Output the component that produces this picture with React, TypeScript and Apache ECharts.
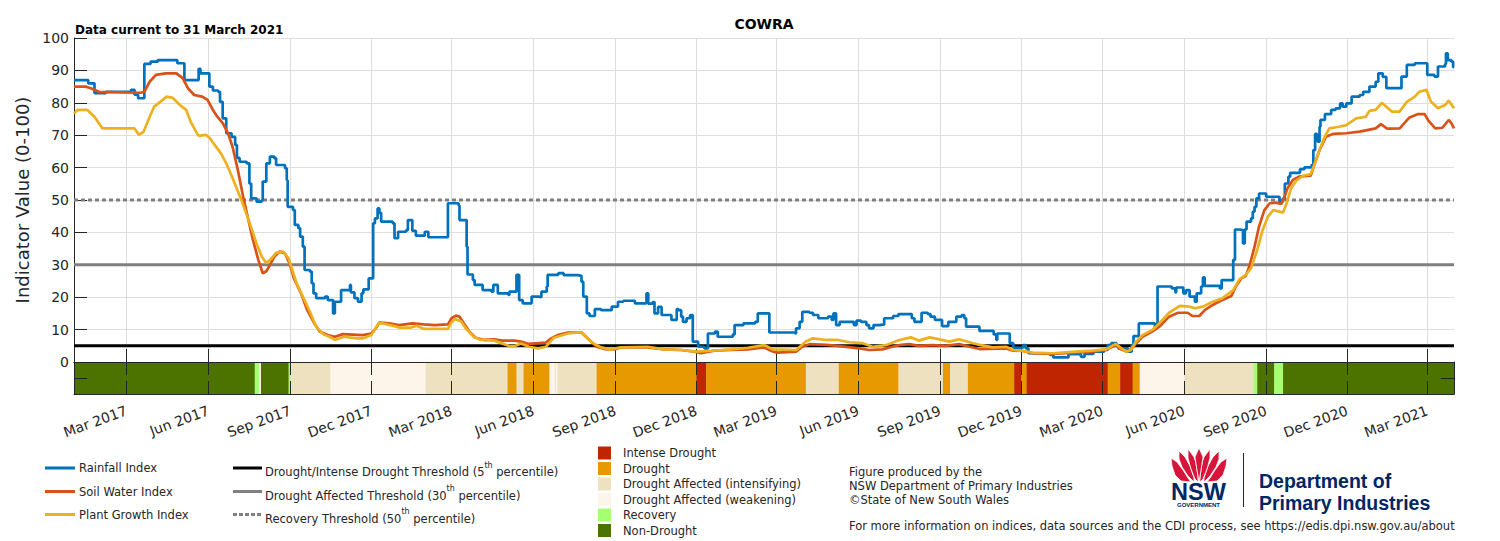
import React, { useEffect, useRef } from 'react';
import * as echarts from 'echarts';

// ---------- DATA ----------
const startDate = '2017-01-01';
const endDate = '2021-03-31';
const tickMonths = ['03', '06', '09', '12'];
const monthNames = ['Jan', 'Feb', 'Mar', 'Apr', 'May', 'Jun', 'Jul', 'Aug', 'Sep', 'Oct', 'Nov', 'Dec'];

const rainfallIndex: [string, number][] = [
  ['2017-01-01', 87], ['2017-01-17', 86], ['2017-01-24', 83], ['2017-02-06', 83.4], ['2017-03-06', 84],
  ['2017-03-10', 82.5], ['2017-03-14', 81.4], ['2017-03-21', 92], ['2017-03-28', 92.7], ['2017-04-05', 93.2],
  ['2017-04-27', 92.2], ['2017-05-05', 87], ['2017-05-21', 90.5], ['2017-05-23', 89.1], ['2017-06-02', 85],
  ['2017-06-06', 83.8], ['2017-06-12', 83.4], ['2017-06-14', 80.3], ['2017-06-17', 75.2], ['2017-06-21', 70.6],
  ['2017-06-27', 69.5], ['2017-07-01', 67], ['2017-07-03', 63], ['2017-07-06', 61.8], ['2017-07-14', 61.3],
  ['2017-07-17', 55.1], ['2017-07-19', 50.5], ['2017-07-25', 49.5], ['2017-07-31', 50], ['2017-08-01', 55.7],
  ['2017-08-05', 61.3], ['2017-08-09', 63.4], ['2017-08-14', 62.9], ['2017-08-16', 60.8], ['2017-08-26', 59.8],
  ['2017-08-28', 56.2], ['2017-08-29', 47.9], ['2017-09-04', 46.9], ['2017-09-06', 42.3], ['2017-09-10', 41.3],
  ['2017-09-12', 38.7], ['2017-09-15', 35.6], ['2017-09-17', 28.4], ['2017-09-23', 27.9], ['2017-09-25', 24.3],
  ['2017-09-27', 21.2], ['2017-09-30', 19.7], ['2017-10-10', 20.2], ['2017-10-13', 19.1], ['2017-10-19', 15],
  ['2017-10-21', 18.6], ['2017-10-28', 22.2], ['2017-11-07', 23.8], ['2017-11-08', 21.5], ['2017-11-12', 19.7],
  ['2017-11-16', 18.6], ['2017-11-20', 21.2], ['2017-11-22', 22.4], ['2017-11-28', 25.8], ['2017-12-03', 42.8],
  ['2017-12-05', 44.3], ['2017-12-08', 47.4], ['2017-12-10', 46], ['2017-12-12', 43.3], ['2017-12-25', 42.8],
  ['2017-12-27', 38.2], ['2017-12-31', 40.2], ['2018-01-09', 40.7], ['2018-01-11', 43.8], ['2018-01-16', 40.5],
  ['2018-01-20', 39], ['2018-01-30', 40.2], ['2018-02-03', 38.5], ['2018-02-25', 49], ['2018-03-09', 48.3],
  ['2018-03-10', 43.8], ['2018-03-18', 35.6], ['2018-03-19', 27], ['2018-03-25', 25.3], ['2018-03-27', 23.8],
  ['2018-04-05', 22.2], ['2018-04-15', 21.7], ['2018-04-17', 23.8], ['2018-04-22', 21.2], ['2018-05-04', 20.7],
  ['2018-05-05', 21.7], ['2018-05-13', 26.9], ['2018-05-16', 19.1], ['2018-05-20', 18.1], ['2018-05-30', 20.2],
  ['2018-06-06', 20], ['2018-06-10', 21.7], ['2018-06-16', 23.3], ['2018-06-17', 26.9], ['2018-06-29', 27.4],
  ['2018-07-05', 26.8], ['2018-07-21', 26.6], ['2018-07-25', 24.8], ['2018-07-27', 20.2], ['2018-07-31', 15],
  ['2018-08-03', 14.2], ['2018-08-09', 16.3], ['2018-08-16', 16], ['2018-08-28', 17.1], ['2018-09-04', 18.6],
  ['2018-09-10', 18.9], ['2018-09-23', 18.1], ['2018-10-06', 21.2], ['2018-10-08', 18], ['2018-10-13', 18.5],
  ['2018-10-15', 15], ['2018-10-19', 17], ['2018-10-23', 14.5], ['2018-11-03', 13], ['2018-11-09', 16.3],
  ['2018-11-11', 16], ['2018-11-14', 14], ['2018-11-16', 12.4], ['2018-11-20', 13.5], ['2018-11-24', 14.5],
  ['2018-11-27', 6.3], ['2018-12-03', 4.7], ['2018-12-10', 4.2], ['2018-12-14', 8.8], ['2018-12-22', 9.4],
  ['2018-12-25', 7.8], ['2019-01-11', 8.5], ['2019-01-13', 11.4], ['2019-01-23', 11.9], ['2019-02-05', 12.4],
  ['2019-02-08', 15], ['2019-02-21', 9.1], ['2019-03-22', 8.8], ['2019-03-23', 10.4], ['2019-03-27', 12.4],
  ['2019-03-30', 15.5], ['2019-04-07', 15.2], ['2019-04-11', 14.5], ['2019-04-17', 13.5], ['2019-04-28', 14],
  ['2019-05-02', 13], ['2019-05-04', 15], ['2019-05-07', 11.4], ['2019-05-11', 12.4], ['2019-05-27', 11.4],
  ['2019-05-30', 12.8], ['2019-06-04', 12.4], ['2019-06-10', 11.4], ['2019-06-13', 10.4], ['2019-06-18', 11.4],
  ['2019-06-25', 11.6], ['2019-06-30', 13.5], ['2019-07-10', 14.2], ['2019-07-16', 14.8], ['2019-07-31', 13.5],
  ['2019-08-03', 12.4], ['2019-08-11', 15.2], ['2019-08-18', 14.8], ['2019-08-21', 14], ['2019-08-26', 13],
  ['2019-09-03', 11.1], ['2019-09-10', 12.4], ['2019-09-19', 14], ['2019-09-25', 14.5], ['2019-09-28', 13.5],
  ['2019-09-30', 10.9], ['2019-10-15', 9.6], ['2019-10-31', 8.5], ['2019-11-03', 6.8], ['2019-11-04', 8.8],
  ['2019-11-18', 5.8], ['2019-11-22', 4.4], ['2019-12-03', 5.2], ['2019-12-06', 4.2], ['2019-12-09', 2.7],
  ['2020-01-02', 2.2], ['2020-01-06', 1.4], ['2020-01-23', 2.4], ['2020-02-06', 1.6], ['2020-02-10', 2.5],
  ['2020-02-20', 3.2], ['2020-03-03', 3.7], ['2020-03-07', 5.2], ['2020-03-11', 5.8], ['2020-03-17', 5.2],
  ['2020-03-19', 4.2], ['2020-03-30', 3.2], ['2020-04-03', 5.2], ['2020-04-05', 8], ['2020-04-11', 11.9],
  ['2020-04-29', 10.9], ['2020-05-02', 23.3], ['2020-05-18', 22.7], ['2020-05-22', 21.5], ['2020-05-23', 23],
  ['2020-05-31', 21.2], ['2020-06-03', 22.2], ['2020-06-07', 20.2], ['2020-06-13', 18.6], ['2020-06-15', 21.2],
  ['2020-06-20', 23.3], ['2020-06-22', 26.1], ['2020-06-24', 23.5], ['2020-07-11', 22.7], ['2020-07-13', 25.3],
  ['2020-07-26', 31.5], ['2020-07-28', 40.9], ['2020-08-02', 40.7], ['2020-08-06', 36.6], ['2020-08-08', 40.9],
  ['2020-08-10', 43.3], ['2020-08-15', 44.3], ['2020-08-17', 46.4], ['2020-08-19', 47.9], ['2020-08-21', 50.5],
  ['2020-08-24', 52], ['2020-09-01', 51], ['2020-09-16', 49.5], ['2020-09-20', 50.5], ['2020-09-22', 55.1],
  ['2020-09-26', 57.2], ['2020-09-28', 58.4], ['2020-10-09', 59.5], ['2020-10-14', 60.1], ['2020-10-22', 60.8],
  ['2020-10-24', 65.4], ['2020-10-26', 70.4], ['2020-10-28', 69.5], ['2020-10-29', 68], ['2020-10-31', 72.6],
  ['2020-11-01', 74.7], ['2020-11-06', 76.5], ['2020-11-13', 77.8], ['2020-11-18', 78.3], ['2020-11-23', 79.8],
  ['2020-11-26', 78.8], ['2020-11-30', 79.8], ['2020-12-06', 81.9], ['2020-12-15', 82.4], ['2020-12-19', 83.4],
  ['2020-12-26', 85], ['2021-01-02', 86.5], ['2021-01-05', 89.1], ['2021-01-10', 88], ['2021-01-14', 84.5],
  ['2021-01-31', 88.1], ['2021-02-06', 91.7], ['2021-02-15', 92.2], ['2021-03-01', 88.6], ['2021-03-09', 88.1],
  ['2021-03-13', 91.2], ['2021-03-21', 92], ['2021-03-22', 95.3], ['2021-03-24', 93.2], ['2021-03-28', 92.7],
  ['2021-03-30', 91], ['2021-03-31', 91],
];

const soilWaterIndex: [string, number][] = [
  ['2017-01-01', 85], ['2017-01-14', 85], ['2017-01-20', 84.5], ['2017-01-29', 83.4], ['2017-03-17', 83.1],
  ['2017-03-21', 83.4], ['2017-03-27', 86.5], ['2017-04-03', 88.6], ['2017-04-14', 89.1], ['2017-04-26', 89.1],
  ['2017-05-03', 87.6], ['2017-05-09', 84.5], ['2017-05-16', 82.4], ['2017-05-25', 81.9], ['2017-05-31', 80.9],
  ['2017-06-06', 77.8], ['2017-06-11', 75.7], ['2017-06-17', 73.7], ['2017-06-23', 70.6], ['2017-06-28', 66.5],
  ['2017-07-04', 59.3], ['2017-07-10', 51], ['2017-07-15', 44.9], ['2017-07-21', 37.7], ['2017-07-27', 31.5],
  ['2017-08-01', 27.4], ['2017-08-05', 28], ['2017-08-09', 29.9], ['2017-08-14', 32.5], ['2017-08-20', 34.1],
  ['2017-08-26', 33.5], ['2017-08-31', 30.5], ['2017-09-05', 25.8], ['2017-09-13', 21.2], ['2017-09-20', 16],
  ['2017-09-28', 11.9], ['2017-10-04', 9.4], ['2017-10-13', 8.3], ['2017-10-21', 7.8], ['2017-10-30', 8.6],
  ['2017-11-21', 8.3], ['2017-12-01', 8.8], ['2017-12-06', 10.4], ['2017-12-10', 12.2], ['2017-12-21', 11.9],
  ['2018-01-01', 11.4], ['2018-01-16', 11.9], ['2018-01-29', 11.6], ['2018-02-10', 11.4], ['2018-02-25', 11.6],
  ['2018-03-01', 13.5], ['2018-03-06', 14.3], ['2018-03-10', 14], ['2018-03-15', 11.9], ['2018-03-21', 9.4],
  ['2018-03-28', 7.5], ['2018-04-07', 6.8], ['2018-04-18', 7], ['2018-04-27', 6.6], ['2018-05-11', 6.6],
  ['2018-05-18', 6.3], ['2018-05-26', 5.6], ['2018-06-15', 6], ['2018-06-21', 7.3], ['2018-06-28', 8.3],
  ['2018-07-10', 9.1], ['2018-07-25', 9.1], ['2018-08-02', 7], ['2018-08-11', 4.7], ['2018-08-20', 4],
  ['2018-08-31', 3.9], ['2018-09-07', 4.5], ['2018-10-07', 4.5], ['2018-10-26', 3.9], ['2018-11-14', 3.7],
  ['2018-11-29', 3.2], ['2018-12-06', 2.7], ['2018-12-21', 3.5], ['2019-01-09', 3.7], ['2019-01-28', 3.9],
  ['2019-02-15', 4.5], ['2019-02-25', 3.2], ['2019-03-02', 2.9], ['2019-03-23', 3.2], ['2019-03-30', 4.7],
  ['2019-04-07', 5.5], ['2019-04-26', 5.3], ['2019-05-11', 4.9], ['2019-06-02', 4.2], ['2019-06-13', 3.7],
  ['2019-06-28', 3.9], ['2019-07-09', 4.7], ['2019-07-17', 5.2], ['2019-07-28', 5.5], ['2019-08-08', 5],
  ['2019-08-23', 5.2], ['2019-09-07', 5], ['2019-09-22', 5.5], ['2019-10-04', 4.7], ['2019-10-15', 4],
  ['2019-11-14', 4.2], ['2019-11-22', 3.5], ['2019-12-03', 3.4], ['2019-12-14', 2.7], ['2020-01-05', 2.5],
  ['2020-01-31', 2.9], ['2020-02-19', 3.2], ['2020-03-05', 3.8], ['2020-03-16', 5.2], ['2020-03-22', 3.9],
  ['2020-03-28', 3.2], ['2020-04-02', 3.7], ['2020-04-08', 5.8], ['2020-04-15', 7.8], ['2020-04-26', 9.4],
  ['2020-05-04', 10.9], ['2020-05-15', 14], ['2020-05-25', 15.2], ['2020-06-05', 15.2], ['2020-06-10', 14.2],
  ['2020-06-18', 14.2], ['2020-06-24', 16], ['2020-07-03', 17.6], ['2020-07-12', 18.9], ['2020-07-24', 20.4],
  ['2020-07-29', 23.3], ['2020-08-04', 25.8], ['2020-08-09', 26.5], ['2020-08-13', 29.4], ['2020-08-19', 35.6],
  ['2020-08-24', 41.8], ['2020-08-30', 46.9], ['2020-09-05', 49], ['2020-09-12', 49.2], ['2020-09-18', 48.8],
  ['2020-09-21', 50.5], ['2020-09-25', 53.6], ['2020-10-01', 56.2], ['2020-10-08', 57.2], ['2020-10-21', 57.5],
  ['2020-10-25', 60.8], ['2020-10-31', 65.4], ['2020-11-07', 69.5], ['2020-11-15', 70.4], ['2020-11-30', 70.6],
  ['2020-12-15', 71.1], ['2021-01-02', 72.1], ['2021-01-08', 73.4], ['2021-01-15', 72], ['2021-01-29', 72.1],
  ['2021-02-09', 75.5], ['2021-02-18', 76.5], ['2021-02-26', 76.5], ['2021-03-02', 74.6], ['2021-03-10', 72.1],
  ['2021-03-18', 72.3], ['2021-03-25', 74.7], ['2021-03-28', 73.7], ['2021-03-31', 72.1],
];

const plantGrowthIndex: [string, number][] = [
  ['2017-01-01', 76.7], ['2017-01-05', 77.8], ['2017-01-16', 77.8], ['2017-01-24', 75.7], ['2017-02-02', 72.1],
  ['2017-03-10', 72.1], ['2017-03-15', 70.1], ['2017-03-20', 71], ['2017-03-27', 75.7], ['2017-04-01', 78.8],
  ['2017-04-08', 80.3], ['2017-04-15', 81.9], ['2017-04-22', 81.5], ['2017-04-30', 79.3], ['2017-05-07', 77.8],
  ['2017-05-12', 74.2], ['2017-05-18', 71.1], ['2017-05-21', 69.8], ['2017-05-29', 70.1], ['2017-06-02', 69.3],
  ['2017-06-08', 67], ['2017-06-15', 64.4], ['2017-06-21', 61.3], ['2017-06-26', 58.2], ['2017-07-02', 54.1],
  ['2017-07-08', 50], ['2017-07-14', 45.4], ['2017-07-20', 40.7], ['2017-07-25', 36.6], ['2017-07-31', 32.5],
  ['2017-08-05', 30.5], ['2017-08-11', 32], ['2017-08-16', 33.7], ['2017-08-24', 34.1], ['2017-08-30', 32],
  ['2017-09-02', 29.4], ['2017-09-08', 24.3], ['2017-09-15', 20.2], ['2017-09-23', 15.5], ['2017-09-30', 10.9],
  ['2017-10-08', 8.6], ['2017-10-15', 7.8], ['2017-10-21', 6.8], ['2017-10-31', 7.8], ['2017-11-15', 7.3],
  ['2017-11-22', 7.3], ['2017-12-01', 8.3], ['2017-12-09', 11.9], ['2017-12-14', 11.9], ['2017-12-22', 11.4],
  ['2018-01-02', 10.6], ['2018-01-14', 10.6], ['2018-01-21', 11.2], ['2018-01-29', 10.2], ['2018-02-25', 10.2],
  ['2018-03-01', 12.2], ['2018-03-05', 13.3], ['2018-03-12', 12.5], ['2018-03-17', 10.4], ['2018-03-26', 7.8],
  ['2018-04-03', 6.8], ['2018-04-18', 6.6], ['2018-05-04', 5], ['2018-05-11', 4.9], ['2018-05-18', 5.7],
  ['2018-05-27', 4.7], ['2018-06-06', 4.2], ['2018-06-15', 4.7], ['2018-06-24', 7.5], ['2018-07-10', 8.8],
  ['2018-07-25', 9.2], ['2018-08-06', 6], ['2018-08-16', 4.5], ['2018-08-27', 3.9], ['2018-09-07', 4.5],
  ['2018-10-07', 4.7], ['2018-10-26', 3.9], ['2018-11-14', 3.7], ['2018-12-01', 3.2], ['2018-12-14', 3.4],
  ['2019-01-09', 3.9], ['2019-01-28', 4.4], ['2019-02-15', 5.2], ['2019-02-17', 5], ['2019-02-25', 3.9],
  ['2019-03-23', 3.7], ['2019-04-03', 6.3], ['2019-04-11', 7.3], ['2019-04-26', 6.8], ['2019-05-09', 6.8],
  ['2019-05-22', 6.1], ['2019-06-06', 5.8], ['2019-06-17', 4.7], ['2019-07-02', 5.2], ['2019-07-17', 6.8],
  ['2019-07-30', 7.6], ['2019-08-08', 6.6], ['2019-08-20', 7.6], ['2019-08-31', 7], ['2019-09-11', 6.3],
  ['2019-09-22', 7], ['2019-10-08', 5.8], ['2019-10-15', 5.3], ['2019-10-30', 4.5], ['2019-11-14', 4.7],
  ['2019-11-22', 3.7], ['2019-12-03', 3.4], ['2019-12-14', 2.9], ['2020-01-05', 2.7], ['2020-01-31', 3.2],
  ['2020-02-19', 3.5], ['2020-03-05', 3.9], ['2020-03-16', 5.6], ['2020-03-22', 4.3], ['2020-03-28', 3.2],
  ['2020-04-02', 3.7], ['2020-04-08', 6.3], ['2020-04-15', 8.3], ['2020-04-26', 9.9], ['2020-05-04', 11.9],
  ['2020-05-15', 15.2], ['2020-05-27', 17.3], ['2020-06-07', 17.1], ['2020-06-13', 16.6], ['2020-06-22', 17.1],
  ['2020-07-03', 18.6], ['2020-07-14', 19.7], ['2020-07-26', 22.2], ['2020-08-02', 25.5], ['2020-08-09', 26.9],
  ['2020-08-15', 28.9], ['2020-08-22', 34.6], ['2020-08-28', 40.7], ['2020-09-03', 44.9], ['2020-09-09', 46.9],
  ['2020-09-16', 46.4], ['2020-09-20', 46.1], ['2020-09-24', 49], ['2020-09-29', 53.6], ['2020-10-05', 56],
  ['2020-10-12', 57.4], ['2020-10-21', 58], ['2020-10-25', 60.8], ['2020-10-31', 65.4], ['2020-11-05', 69],
  ['2020-11-11', 72.1], ['2020-11-22', 72.6], ['2020-11-30', 73.1], ['2020-12-11', 75.2], ['2020-12-22', 75.7],
  ['2020-12-26', 77.5], ['2021-01-02', 77.8], ['2021-01-09', 80], ['2021-01-20', 77.3], ['2021-01-29', 77.3],
  ['2021-02-06', 80.3], ['2021-02-15', 81.9], ['2021-02-20', 83.4], ['2021-02-28', 84], ['2021-03-05', 80.4],
  ['2021-03-13', 78.3], ['2021-03-21', 79.3], ['2021-03-25', 80.7], ['2021-03-31', 78.3],
];

const thresholdNames = [
  'Drought/Intense Drought Threshold',
  'Drought Affected Threshold',
  'Recovery Threshold',
];
const thresholdValues = [5, 30, 50];
const thresholdPercentiles = ['5', '30', '50'];

const droughtCategories = [
  'Intense Drought',
  'Drought',
  'Drought Affected (intensifying)',
  'Drought Affected (weakening)',
  'Recovery',
  'Non-Drought',
];

// [start, end, category index]
const droughtPeriods: [string, string, number][] = [
  ['2017-01-01', '2017-07-23', 5], ['2017-07-23', '2017-07-28', 4], ['2017-07-28', '2017-07-30', 3],
  ['2017-07-30', '2017-08-30', 5], ['2017-08-30', '2017-09-01', 4], ['2017-09-01', '2017-10-16', 2],
  ['2017-10-16', '2018-01-31', 3], ['2018-01-31', '2018-05-03', 2], ['2018-05-03', '2018-05-13', 1],
  ['2018-05-13', '2018-05-21', 2], ['2018-05-21', '2018-06-19', 1], ['2018-06-19', '2018-06-25', 3],
  ['2018-06-25', '2018-06-26', 2], ['2018-06-26', '2018-06-28', 3], ['2018-06-28', '2018-08-11', 2],
  ['2018-08-11', '2018-12-01', 1], ['2018-12-01', '2018-12-12', 0], ['2018-12-12', '2019-04-03', 1],
  ['2019-04-03', '2019-05-10', 2], ['2019-05-10', '2019-07-16', 1], ['2019-07-16', '2019-09-04', 2],
  ['2019-09-04', '2019-09-12', 1], ['2019-09-12', '2019-10-02', 2], ['2019-10-02', '2019-11-23', 1],
  ['2019-11-23', '2019-12-01', 0], ['2019-12-01', '2019-12-07', 1], ['2019-12-07', '2020-03-07', 0],
  ['2020-03-07', '2020-03-21', 1], ['2020-03-21', '2020-04-04', 0], ['2020-04-04', '2020-04-12', 1],
  ['2020-04-12', '2020-06-01', 3], ['2020-06-01', '2020-08-18', 2], ['2020-08-18', '2020-08-22', 4],
  ['2020-08-22', '2020-09-10', 5], ['2020-09-10', '2020-09-20', 4], ['2020-09-20', '2021-03-31', 5],
];

// ---------- STYLE ----------
const FONT = 'DejaVu Sans';
const INK = '#262626';
const GRIDC = '#dedede';
const seriesColors = ['#0072BD', '#D95319', '#EDB120'];
const thresholdColors = ['#000000', '#808080', '#808080'];
const droughtColors = ['#BF2600', '#E69900', '#EDE1BF', '#FDF5E9', '#A6FF73', '#4C7300'];
const NAVY = '#002664';
const WARATAH = '#D7153A';

function buildDays(a: string, b: string): string[] {
  const out: string[] = [];
  const d = new Date(a + 'T00:00:00Z');
  const end = new Date(b + 'T00:00:00Z').getTime();
  while (d.getTime() <= end) {
    out.push(d.toISOString().slice(0, 10));
    d.setUTCDate(d.getUTCDate() + 1);
  }
  return out;
}

const waratahPetals: number[][][] = [
  [[0, 10], [6, 14], [12, 22], [17, 30], [20, 34], [10, 33], [4, 27], [1, 18]],
  [[8, 3], [14, 9], [19, 18], [23, 30], [23, 34], [17, 28], [11, 19], [8, 11]],
  [[17, 1], [23, 9], [27, 21], [27, 34], [24, 31], [20, 21], [17, 10]],
  [[28, 0], [32, 9], [30, 22], [28, 34], [26, 22], [24, 9]],
];

export default function App() {
  const ref = useRef<HTMLDivElement>(null);

  useEffect(() => {
    if (!ref.current) return;
    const chart = echarts.init(ref.current, undefined, { renderer: 'svg' });

    const days = buildDays(startDate, endDate);
    const idx = new Map<string, number>();
    days.forEach((d, i) => idx.set(d, i));
    const toPts = (arr: [string, number][]) => arr.map(([d, v]) => [idx.get(d), v]);
    const isTick = (_i: number, v: string) =>
      v.slice(8, 10) === '01' && tickMonths.includes(v.slice(5, 7));
    const fmt = (v: string) => `${monthNames[parseInt(v.slice(5, 7), 10) - 1]} ${v.slice(0, 4)}`;
    const last = days.length - 1;

    const darkLine = { show: true, onZero: false, lineStyle: { color: INK, width: 1 } };
    const inTick = (interval?: any) => ({
      show: true, inside: true, length: 13, interval, lineStyle: { color: INK, width: 1 },
    });

    const thresholdSeries = thresholdValues.map((v, i) => ({
      name: thresholdNames[i],
      type: 'line',
      xAxisIndex: 0, yAxisIndex: 0,
      data: [[0, v], [last, v]],
      symbol: 'none',
      silent: true,
      lineStyle: {
        color: thresholdColors[i],
        width: 3,
        type: i === 2 ? [4, 3] : 'solid',
      },
    }));

    const lineSeries = [
      { name: 'Rainfall Index', data: rainfallIndex, step: 'end' },
      { name: 'Soil Water Index', data: soilWaterIndex, step: false },
      { name: 'Plant Growth Index', data: plantGrowthIndex, step: false },
    ].map((s, i) => ({
      name: s.name,
      type: 'line',
      xAxisIndex: 0, yAxisIndex: 0,
      data: toPts(s.data),
      step: s.step,
      symbol: 'none',
      showSymbol: false,
      silent: true,
      lineStyle: { color: seriesColors[i], width: 2.7 },
    }));

    const bandSeries = {
      name: 'CDI',
      type: 'custom',
      xAxisIndex: 1, yAxisIndex: 1,
      silent: true,
      encode: { x: [0, 1], y: 2 },
      data: droughtPeriods.map(([a, b, c]) => [idx.get(a), idx.get(b), 1, c]),
      renderItem: (_p: any, api: any) => {
        const p0 = api.coord([api.value(0), 0]);
        const p1 = api.coord([api.value(1), 2]);
        return {
          type: 'rect',
          shape: { x: p0[0], y: p1[1], width: p1[0] - p0[0] + 0.4, height: p0[1] - p1[1] },
          style: { fill: droughtColors[api.value(3)] },
        };
      },
    };

    const txt = (x: number, y: number, text: string, extra: any = {}) => ({
      type: 'text', x, y, silent: true,
      style: {
        text, fill: INK, fontFamily: FONT, fontSize: 11.5,
        textAlign: 'left', textVerticalAlign: 'middle', ...extra,
      },
    });

    const graphics: any[] = [];
    // titles
    graphics.push(txt(764, 24, 'COWRA', { fontSize: 14, fontWeight: 'bold', textAlign: 'center', fill: '#000' }));
    graphics.push(txt(75, 30, 'Data current to 31 March 2021', { fontSize: 12, fontWeight: 'bold', fill: '#000' }));

    // series legend
    const legendNames = ['Rainfall Index', 'Soil Water Index', 'Plant Growth Index'];
    const rowsY = [468, 491.5, 514.5];
    legendNames.forEach((n, i) => {
      graphics.push({
        type: 'line', silent: true,
        shape: { x1: 45, y1: rowsY[i], x2: 75, y2: rowsY[i] },
        style: { stroke: seriesColors[i], lineWidth: 3 },
      });
      graphics.push(txt(79, rowsY[i], n));
    });
    thresholdNames.forEach((n, i) => {
      graphics.push({
        type: 'line', silent: true,
        shape: { x1: 233, y1: rowsY[i], x2: 262, y2: rowsY[i] },
        style: { stroke: thresholdColors[i], lineWidth: 3, lineDash: i === 2 ? [4, 2] : null },
      });
      graphics.push({
        type: 'text', x: 265, y: rowsY[i] + 1.5, silent: true,
        style: {
          text: `{n|${n} (${thresholdPercentiles[i]}}{s|th}{n| percentile)}`,
          textAlign: 'left', textVerticalAlign: 'middle',
          rich: {
            n: { fontFamily: FONT, fontSize: 11.5, fill: INK, lineHeight: 17, verticalAlign: 'bottom' },
            s: { fontFamily: FONT, fontSize: 8, fill: INK, lineHeight: 8, verticalAlign: 'top' },
          },
        },
      });
    });

    // category legend
    const catY = [453, 468.5, 484, 499.5, 515, 530.5];
    droughtCategories.forEach((c, i) => {
      graphics.push({
        type: 'rect', silent: true,
        shape: { x: 598, y: catY[i] - 6.5, width: 13, height: 13 },
        style: { fill: droughtColors[i] },
      });
      graphics.push(txt(623, catY[i], c));
    });

    // credits
    graphics.push(txt(849, 472, 'Figure produced by the'));
    graphics.push(txt(849, 486, 'NSW Department of Primary Industries'));
    graphics.push(txt(849, 500, '©State of New South Wales'));
    graphics.push(txt(849, 526, 'For more information on indices, data sources and the CDI process, see https://edis.dpi.nsw.gov.au/about'));

    // logo
    const ox = 1171, oy = 448;
    waratahPetals.forEach((pts) => {
      const left = pts.map(([x, y]) => [ox + x, oy + y]);
      const right = pts.map(([x, y]) => [ox + 56 - x, oy + y]);
      [left, right].forEach((p) =>
        graphics.push({
          type: 'polygon', silent: true,
          shape: { points: p },
          style: { fill: WARATAH, stroke: '#ffffff', lineWidth: 0.8 },
        }),
      );
    });
    graphics.push(txt(1198.5, 491.5, 'NSW', {
      fontFamily: 'Liberation Sans', fontSize: 23.5, fontWeight: 'bold', fill: NAVY, textAlign: 'center',
    }));
    graphics.push(txt(1198.5, 505, 'GOVERNMENT', {
      fontFamily: 'Liberation Sans', fontSize: 6, fontWeight: 'bold', fill: NAVY, textAlign: 'center',
    }));
    graphics.push({
      type: 'line', silent: true,
      shape: { x1: 1243.5, y1: 453, x2: 1243.5, y2: 507 },
      style: { stroke: NAVY, lineWidth: 1 },
    });
    graphics.push(txt(1259, 480.5, 'Department of', {
      fontFamily: 'Liberation Sans', fontSize: 19.5, fontWeight: 'bold', fill: NAVY,
    }));
    graphics.push(txt(1259, 502.5, 'Primary Industries', {
      fontFamily: 'Liberation Sans', fontSize: 19.5, fontWeight: 'bold', fill: NAVY,
    }));

    const option: any = {
      animation: false,
      textStyle: { fontFamily: FONT },
      grid: [
        { left: 74, right: 46, top: 38, height: 324 },
        { left: 74, right: 46, top: 362, height: 32 },
      ],
      xAxis: [
        {
          gridIndex: 0, type: 'category', data: days, boundaryGap: false,
          axisLine: darkLine, axisTick: inTick(isTick), axisLabel: { show: false },
          splitLine: { show: true, interval: isTick, lineStyle: { color: GRIDC, width: 1 } },
        },
        {
          gridIndex: 1, type: 'category', data: days, boundaryGap: false, position: 'bottom', z: 10,
          axisLine: darkLine, axisTick: inTick(isTick),
          axisLabel: {
            interval: isTick, formatter: fmt, rotate: 20, margin: 16,
            fontSize: 14, color: INK, fontFamily: FONT,
          },
          splitLine: { show: false },
        },
        {
          gridIndex: 1, type: 'category', data: days, boundaryGap: false, position: 'top', z: 10,
          axisLine: darkLine, axisTick: inTick(isTick), axisLabel: { show: false },
          splitLine: { show: false },
        },
      ],
      yAxis: [
        {
          gridIndex: 0, type: 'value', min: 0, max: 100, interval: 10,
          name: 'Indicator Value (0-100)', nameLocation: 'middle', nameGap: 28,
          nameTextStyle: { fontSize: 18, color: INK, fontFamily: FONT },
          axisLine: darkLine, axisTick: inTick(),
          axisLabel: { fontSize: 14, color: INK, fontFamily: FONT, margin: 5 },
          splitLine: { show: true, lineStyle: { color: GRIDC, width: 1 } },
        },
        {
          gridIndex: 1, type: 'value', min: 0, max: 2, interval: 1, position: 'left', z: 10,
          axisLine: darkLine, axisTick: inTick(), axisLabel: { show: false }, splitLine: { show: false },
        },
        {
          gridIndex: 1, type: 'value', min: 0, max: 2, interval: 1, position: 'right', z: 10,
          axisLine: darkLine, axisTick: inTick(), axisLabel: { show: false }, splitLine: { show: false },
        },
      ],
      series: [...thresholdSeries, bandSeries, ...lineSeries],
      graphic: graphics,
    };

    chart.setOption(option);
    return () => chart.dispose();
  }, []);

  return (
    <div
      ref={ref}
      style={{ position: 'fixed', left: 0, top: 0, width: 1500, height: 541, background: '#fff' }}
    />
  );
}
